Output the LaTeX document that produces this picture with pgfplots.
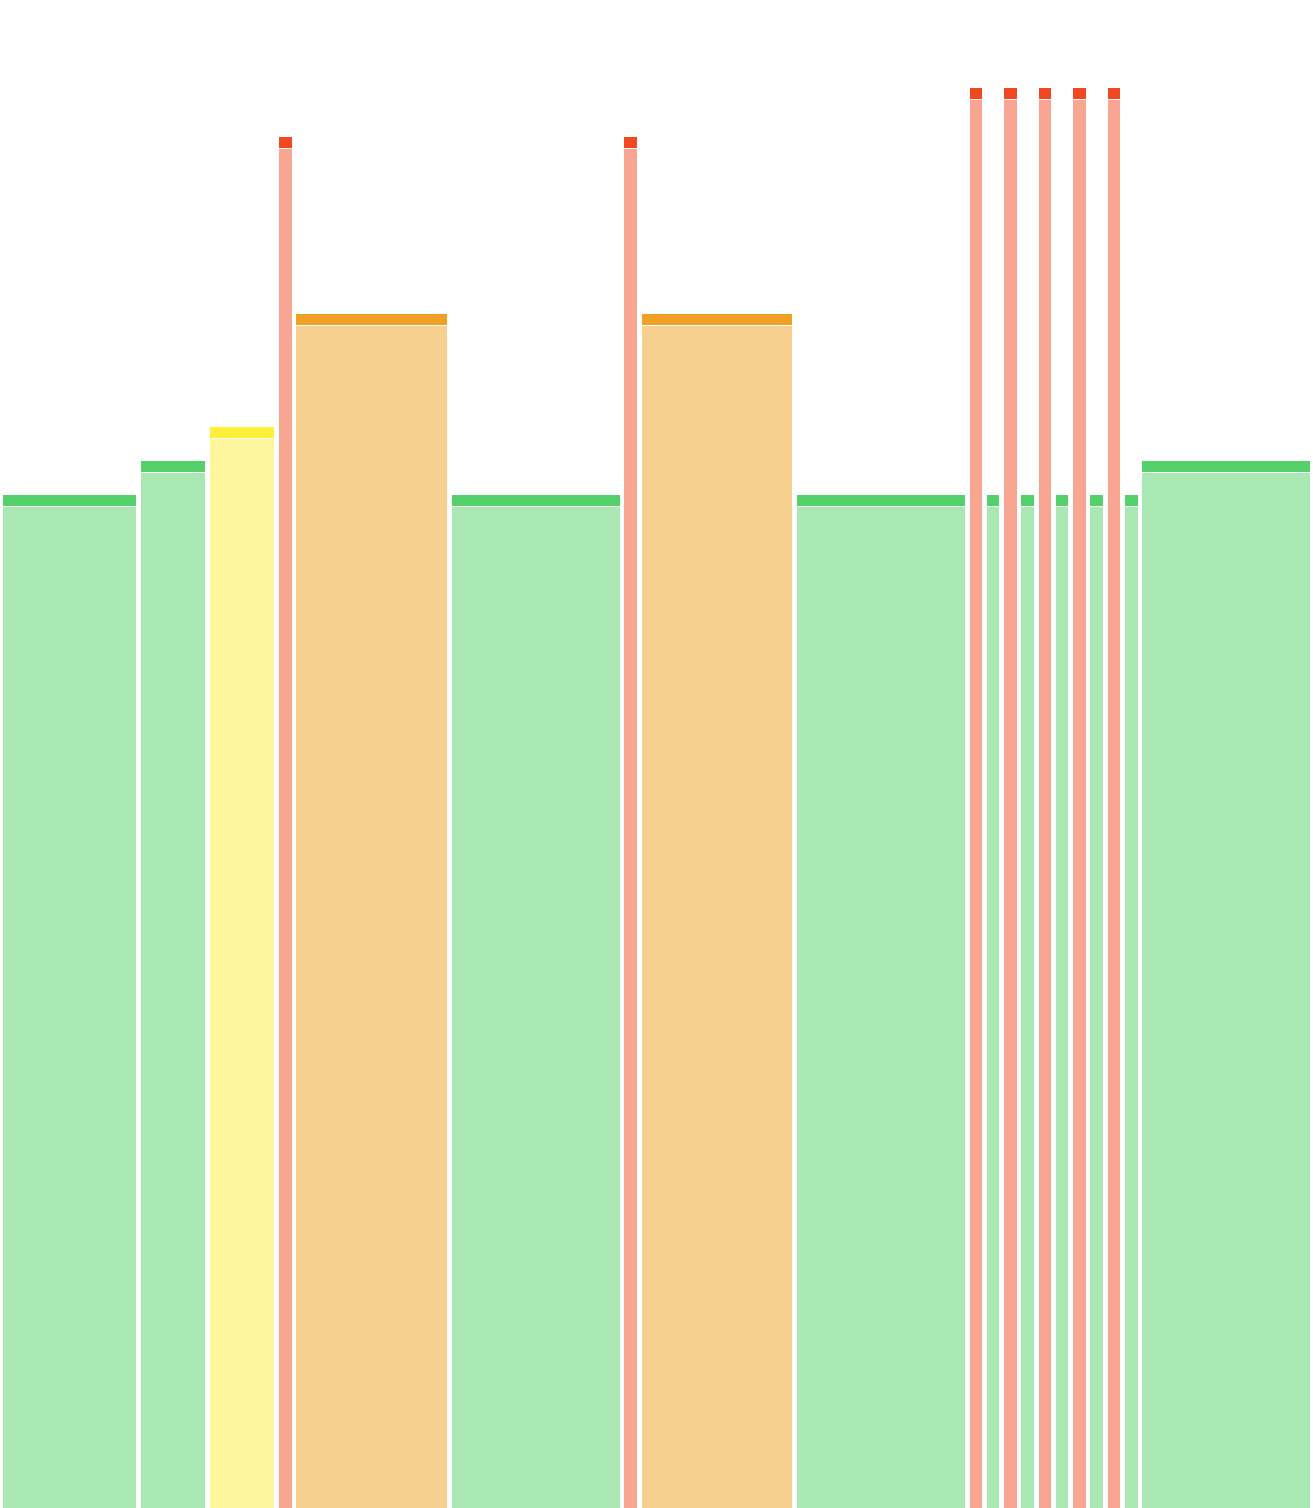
\documentclass[border=0pt]{standalone}
\usepackage{pgfplots}
\pgfplotsset{compat=1.18}

\definecolor{gc}{HTML}{54D06A}
\definecolor{gb}{HTML}{A9E7B3}
\definecolor{yc}{HTML}{FFEE3A}
\definecolor{yb}{HTML}{FEF59D}
\definecolor{oc}{HTML}{F0A024}
\definecolor{ob}{HTML}{F7D08F}
\definecolor{rc}{HTML}{F24822}
\definecolor{rb}{HTML}{F8A592}

% one bar: x0, x1, cap top, cap bottom, body top, colour key
\newcommand{\capbar}[6]{%
  \addplot[fill=#6b, draw=none] coordinates {(#1,0) (#1,#5) (#2,#5) (#2,0)} --cycle;
  \addplot[fill=#6c, draw=none] coordinates {(#1,#4) (#1,#3) (#2,#3) (#2,#4)} --cycle;
}

% levels (pixels from the bottom)
\def\gAt{1013}\def\gAc{1002}\def\gAb{1001}
\def\gBt{1047}\def\gBc{1036}\def\gBb{1035}
\def\yt{1081}\def\yc{1070}\def\yb{1069}
\def\ot{1193.7}\def\oc{1182.7}\def\ob{1181.7}
\def\rSt{1371}\def\rSc{1360}\def\rSb{1359}
\def\rTt{1420}\def\rTc{1409}\def\rTb{1408}

\begin{document}
\begin{tikzpicture}
\begin{axis}[
    scale only axis,
    width=656pt,
    height=754pt,
    xmin=0, xmax=1312,
    ymin=0, ymax=1508,
    hide axis,
    ticks=none,
]
\path (rel axis cs:0,0) rectangle (rel axis cs:1,1);
\capbar{3}{136}{\gAt}{\gAc}{\gAb}{g}
\capbar{141}{205}{\gBt}{\gBc}{\gBb}{g}
\capbar{210}{274}{\yt}{\yc}{\yb}{y}
\capbar{279}{292}{\rSt}{\rSc}{\rSb}{r}
\capbar{296}{447}{\ot}{\oc}{\ob}{o}
\capbar{452}{619.5}{\gAt}{\gAc}{\gAb}{g}
\capbar{624}{637}{\rSt}{\rSc}{\rSb}{r}
\capbar{641.5}{792}{\ot}{\oc}{\ob}{o}
\capbar{797}{965}{\gAt}{\gAc}{\gAb}{g}
\capbar{969.7}{982.2}{\rTt}{\rTc}{\rTb}{r}
\capbar{987}{999.3}{\gAt}{\gAc}{\gAb}{g}
\capbar{1004.2}{1016.5}{\rTt}{\rTc}{\rTb}{r}
\capbar{1021.3}{1033.7}{\gAt}{\gAc}{\gAb}{g}
\capbar{1038.7}{1051}{\rTt}{\rTc}{\rTb}{r}
\capbar{1056}{1068.3}{\gAt}{\gAc}{\gAb}{g}
\capbar{1073.2}{1085.8}{\rTt}{\rTc}{\rTb}{r}
\capbar{1090.3}{1103}{\gAt}{\gAc}{\gAb}{g}
\capbar{1107.8}{1120.2}{\rTt}{\rTc}{\rTb}{r}
\capbar{1125}{1137.7}{\gAt}{\gAc}{\gAb}{g}
\capbar{1142}{1310}{\gBt}{\gBc}{\gBb}{g}
\end{axis}
\end{tikzpicture}
\end{document}
